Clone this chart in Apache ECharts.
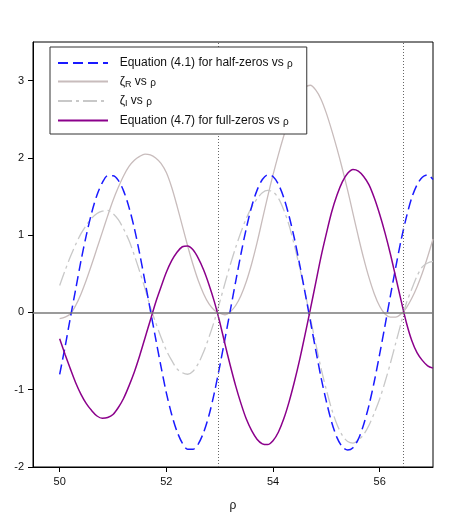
<!DOCTYPE html>
<html>
<head>
<meta charset="utf-8">
<title>half-zeros vs rho</title>
<script src="https://cdn.jsdelivr.net/npm/echarts@6/dist/echarts.min.js"></script>
<style>
  html, body { margin: 0; padding: 0; background: #fff; }
  #chart { width: 456px; height: 519px; }
</style>
</head>
<body>
<div id="chart"></div>
<script>
// rho samples (x)
const rho = [
  50.0, 50.1, 50.2, 50.3, 50.4, 50.5, 50.6, 50.7, 50.8, 50.9,
  51.0, 51.1, 51.2, 51.3, 51.4, 51.5, 51.6, 51.7, 51.8, 51.9,
  52.0, 52.1, 52.2, 52.3, 52.4, 52.5, 52.6, 52.7, 52.8, 52.9,
  53.0, 53.1, 53.2, 53.3, 53.4, 53.5, 53.6, 53.7, 53.8, 53.9,
  54.0, 54.1, 54.2, 54.3, 54.4, 54.5, 54.6, 54.7, 54.8, 54.9,
  55.0, 55.1, 55.2, 55.3, 55.4, 55.5, 55.6, 55.7, 55.8, 55.9,
  56.0, 56.1, 56.2, 56.3, 56.4, 56.5, 56.6, 56.7, 56.8, 56.9,
  57.0
];

// Equation (4.1) for half-zeros
const halfZeros = [
  -0.80, -0.45, -0.07, 0.30, 0.67, 1.00, 1.29, 1.52, 1.68, 1.77,
  1.77, 1.71, 1.57, 1.36, 1.09, 0.76, 0.40, 0.03, -0.34, -0.70,
  -1.04, -1.32, -1.54, -1.69, -1.77, -1.77, -1.70, -1.55, -1.33, -1.04,
  -0.70, -0.34, 0.03, 0.40, 0.76, 1.09, 1.37, 1.58, 1.72, 1.78,
  1.76, 1.66, 1.49, 1.25, 0.96, 0.62, 0.26, -0.11, -0.48, -0.84,
  -1.15, -1.42, -1.62, -1.74, -1.78, -1.75, -1.64, -1.45, -1.20, -0.89,
  -0.54, -0.17, 0.21, 0.58, 0.93, 1.23, 1.48, 1.65, 1.75, 1.78,
  1.72
];

// zeta_R
const zetaR = [
  -0.08, -0.06, -0.02, 0.09, 0.24, 0.42, 0.62, 0.83, 1.04, 1.25,
  1.45, 1.62, 1.77, 1.89, 1.97, 2.02, 2.05, 2.04, 2.00, 1.93,
  1.81, 1.62, 1.38, 1.12, 0.86, 0.62, 0.41, 0.24, 0.11, 0.03,
  -0.01, -0.03, 0.01, 0.09, 0.22, 0.40, 0.63, 0.90, 1.20, 1.50,
  1.78, 2.04, 2.28, 2.50, 2.68, 2.82, 2.91, 2.94, 2.88, 2.76,
  2.58, 2.36, 2.12, 1.86, 1.58, 1.28, 0.98, 0.70, 0.45, 0.24,
  0.08, -0.02, -0.06, -0.06, -0.02, 0.06, 0.18, 0.33, 0.51, 0.72,
  0.95
];

// zeta_I
const zetaI = [
  0.35, 0.54, 0.72, 0.88, 1.02, 1.13, 1.22, 1.28, 1.31, 1.32,
  1.28, 1.20, 1.08, 0.93, 0.74, 0.53, 0.31, 0.07, -0.13, -0.32,
  -0.49, -0.62, -0.73, -0.78, -0.80, -0.76, -0.66, -0.51, -0.32, -0.11,
  0.13, 0.38, 0.62, 0.84, 1.04, 1.22, 1.36, 1.47, 1.55, 1.58,
  1.56, 1.48, 1.33, 1.13, 0.87, 0.58, 0.26, -0.07, -0.40, -0.72,
  -1.00, -1.25, -1.45, -1.59, -1.67, -1.69, -1.65, -1.58, -1.46, -1.30,
  -1.12, -0.90, -0.66, -0.40, -0.14, 0.12, 0.30, 0.47, 0.59, 0.64,
  0.66
];

// Equation (4.7) for full-zeros
const fullZeros = [
  -0.34, -0.54, -0.73, -0.91, -1.06, -1.18, -1.27, -1.34, -1.37, -1.36,
  -1.32, -1.23, -1.11, -0.95, -0.77, -0.56, -0.33, -0.10, 0.13, 0.33,
  0.52, 0.67, 0.78, 0.85, 0.86, 0.81, 0.70, 0.55, 0.36, 0.14,
  -0.12, -0.41, -0.69, -0.95, -1.18, -1.38, -1.53, -1.64, -1.70, -1.71,
  -1.66, -1.55, -1.38, -1.16, -0.90, -0.61, -0.29, 0.04, 0.38, 0.72,
  1.02, 1.30, 1.52, 1.69, 1.80, 1.85, 1.83, 1.76, 1.65, 1.48,
  1.27, 1.03, 0.76, 0.46, 0.16, -0.13, -0.36, -0.52, -0.62, -0.69,
  -0.72
];

// vertical dotted markers
const markRho = [52.97, 56.44];

const xTicks = [50, 52, 54, 56];
const yTicks = [-2, -1, 0, 1, 2, 3];

const names = [
  'Equation (4.1) for half-zeros vs ρ',
  'ζR vs ρ',
  'ζI vs ρ',
  'Equation (4.7) for full-zeros vs ρ'
];

function pairs(ys) {
  return rho.map((x, i) => [x, ys[i]]);
}

const chart = echarts.init(document.getElementById('chart'));

const option = {
  animation: false,
  backgroundColor: '#fff',
  textStyle: { fontFamily: 'Liberation Sans, Arial, sans-serif' },
  grid: {
    left: 33,
    right: 23,
    top: 42,
    bottom: 52,
    show: true,
    borderColor: '#000',
    borderWidth: 1
  },
  legend: {
    data: names,
    orient: 'vertical',
    left: 50,
    top: 47,
    padding: [10, 14, 7, 7],
    itemWidth: 50,
    itemHeight: 14,
    itemGap: 6,
    backgroundColor: '#fff',
    borderColor: '#333',
    borderWidth: 1,
    z: 10,
    // only the line sample, no marker dot
    itemStyle: { opacity: 0 },
    formatter: function (name) {
      if (name === names[1]) return '{t|  ζ}{s|R}{t| vs }{g|ρ}';
      if (name === names[2]) return '{t|  ζ}{s|I}{t| vs }{g|ρ}';
      return '{t|  ' + name.replace(' ρ', ' ') + '}{g|ρ}';
    },
    textStyle: {
      color: '#111',
      fontSize: 12,
      rich: {
        t: { fontSize: 12, color: '#111' },
        g: { fontSize: 10, color: '#111', padding: [3, 0, 0, 0] },
        s: { fontSize: 9, color: '#111', padding: [6, 0, 0, 0] }
      }
    }
  },
  xAxis: {
    type: 'value',
    min: 49.5,
    max: 57,
    name: 'ρ',
    nameLocation: 'middle',
    nameGap: 33,
    nameTextStyle: { fontSize: 12, color: '#111' },
    axisLine: { onZero: false, lineStyle: { color: '#000', width: 1 } },
    axisTick: { customValues: xTicks, length: 5, lineStyle: { color: '#000' } },
    axisLabel: { customValues: xTicks, color: '#111', fontSize: 11, margin: 9 },
    splitLine: { show: false }
  },
  yAxis: {
    type: 'value',
    min: -2,
    max: 3.5,
    axisLine: { show: true, lineStyle: { color: '#000', width: 1 } },
    axisTick: { customValues: yTicks, length: 5, lineStyle: { color: '#000' } },
    axisLabel: { customValues: yTicks, color: '#111', fontSize: 11, margin: 9 },
    splitLine: { show: false }
  },
  series: [
    {
      // zero line + dotted markers
      name: 'marks',
      type: 'line',
      data: [],
      silent: true,
      markLine: {
        silent: true,
        symbol: 'none',
        label: { show: false },
        data: [
          { yAxis: 0, lineStyle: { color: '#7a7a7a', width: 1.5, type: 'solid' } }
        ].concat(markRho.map(v => ({
          xAxis: v, lineStyle: { color: '#666', width: 1, type: [1, 2] }
        })))
      }
    },
    {
      name: names[1],
      type: 'line',
      symbol: 'none',
      smooth: 0.3,
      data: pairs(zetaR),
      lineStyle: { color: '#c8bcbc', width: 1.3, type: 'solid' },
      itemStyle: { color: '#c8bcbc' }
    },
    {
      name: names[2],
      type: 'line',
      symbol: 'none',
      smooth: 0.3,
      data: pairs(zetaI),
      lineStyle: { color: '#c8c8c8', width: 1.3, type: [14, 4, 3, 4] },
      itemStyle: { color: '#c8c8c8' }
    },
    {
      name: names[0],
      type: 'line',
      symbol: 'none',
      smooth: 0.3,
      data: pairs(halfZeros),
      lineStyle: { color: '#1a1aff', width: 1.5, type: [10, 5] },
      itemStyle: { color: '#1a1aff' }
    },
    {
      name: names[3],
      type: 'line',
      symbol: 'none',
      smooth: 0.3,
      data: pairs(fullZeros),
      lineStyle: { color: '#8b008b', width: 1.5, type: 'solid' },
      itemStyle: { color: '#8b008b' }
    }
  ]
};

chart.setOption(option);
</script>
</body>
</html>
